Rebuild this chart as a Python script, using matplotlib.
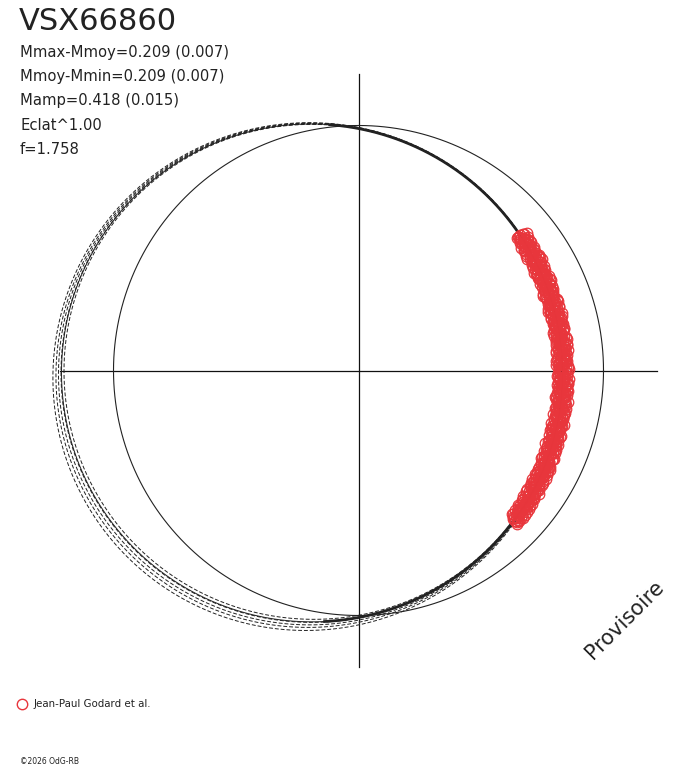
import numpy as np
import matplotlib
matplotlib.use("Agg")
import matplotlib.pyplot as plt

# ---- text ----
title = "VSX66860"
info_lines = ["Mmax-Mmoy=0.209 (0.007)", "Mmoy-Mmin=0.209 (0.007)",
              "Mamp=0.418 (0.015)", "Eclat^1.00", "f=1.758"]
legend_label = "Jean-Paul Godard et al."
footer = "\u00a92026 OdG-RB"
stamp = "Provisoire"

# ---- model curve coefficients (radius in units of the reference circle) ----
model_a = 247.5 / 245
model_b = 46.5 / 245
model_c = 3.0 / 245
model_e = -2.5 / 245
dashed_offsets = [-2.5 / 245, 0.5 / 245, 3.0 / 245, 5.5 / 245, 8.5 / 245]

# ---- observations: phase angle (deg) and radial residuals (x0.001) ----
obs_angle = [
    -44.0, -43.6, -43.1, -42.9, -42.2, -41.8, -41.5, -40.9, -40.6, -40.0, -39.7, -39.1,
    -38.8, -38.3, -37.9, -37.4, -37.0, -36.6, -36.1, -35.8, -35.2, -34.9, -34.3, -34.0,
    -33.5, -33.1, -32.6, -32.2, -31.9, -31.3, -30.9, -30.5, -30.0, -29.6, -29.1, -28.8,
    -28.2, -27.9, -27.4, -26.9, -26.6, -26.1, -25.7, -25.2, -24.8, -24.4, -23.9, -23.5,
    -23.0, -22.7, -22.1, -21.8, -21.3, -20.9, -20.4, -20.0, -19.6, -19.1, -18.7, -18.2,
    -17.9, -17.3, -17.0, -16.5, -16.1, -15.6, -15.2, -14.8, -14.3, -13.9, -13.4, -13.0,
    -12.6, -12.1, -11.7, -11.2, -10.8, -10.4, -9.9, -9.5, -9.0, -8.6, -8.1, -7.7,
    -7.3, -6.8, -6.4, -5.9, -5.5, -5.0, -4.6, -4.2, -3.7, -3.3, -2.8, -2.4,
    -1.9, -1.5, -1.1, -0.6, -0.2, 0.3, 0.7, 1.1, 1.6, 2.0, 2.5, 2.9,
    3.4, 3.8, 4.2, 4.7, 5.1, 5.6, 6.0, 6.5, 6.9, 7.3, 7.8, 8.2,
    8.7, 9.1, 9.6, 10.0, 10.4, 10.9, 11.3, 11.8, 12.2, 12.7, 13.1, 13.5,
    14.0, 14.4, 14.9, 15.3, 15.8, 16.2, 16.6, 17.1, 17.5, 18.0, 18.4, 18.9,
    19.3, 19.7, 20.2, 20.6, 21.1, 21.5, 22.0, 22.4, 22.8, 23.3, 23.7, 24.2,
    24.6, 25.1, 25.5, 25.9, 26.4, 26.8, 27.3, 27.7, 28.2, 28.6, 29.0, 29.5,
    29.9, 30.4, 30.8, 31.3, 31.7, 32.1, 32.6, 33.0, 33.5, 33.9, 34.4, 34.8,
    35.2, 35.7, 36.1, 36.6, 37.0, 37.5, 37.9, 38.3, 38.8, 39.2, 39.6, 40.0,
]
obs_resid_1 = [
    5, -12, 18, -3, 9, -20, 14, 2, -8, 22, -15, 6,
    -4, 11, -18, 25, 0, -9, 16, -22, 7, 13, -6, -14,
    19, -1, -17, 8, 24, -11, 3, -24, 12, -5, 17, -19,
    1, 21, -13, 10, -7, 15, -23, 4, -16, 20, -2, 9,
    -10, 23, -18, 6, -4, 14, -21, 11, 0, -12, 18, -8,
    3, -25, 16, -6, 12, -15, 22, -3, 8, -19, 5, 13,
    -11, 20, -1, -17, 9, 24, -8, 2, -14, 17, -22, 7,
    15, -5, -20, 11, 1, 19, -12, -3, 23, -16, 6, -9,
    12, -24, 4, 18, -7, -13, 21, 0, -18, 10, -4, 16,
    -21, 8, 14, -10, 3, 25, -15, -2, 11, -19, 20, -6,
    5, -12, 17, -23, 9, 1, -8, 22, -14, 13, -3, -17,
    19, -9, 6, -20, 15, -1, 11, -25, 24, -5, -11, 7,
    -16, 21, 2, -7, 13, -22, 18, -4, -13, 10, 0, 16,
    -19, 4, 23, -10, -2, 14, -18, 8, 20, -14, 3, -7,
    12, -21, 17, -3, 6, -12, 25, -15, 1, 9, -24, 19,
    -6, 10, -17, 22, -9, 4, 15, -20, 7, -1, 13, -11,
]
obs_resid_2 = [
    -7, 14, -22, 3, 19, -11, 0, 24, -16, 8, -2, 27,
    10, -19, 5, -26, 15, -8, 21, -1, -13, 6, 28, -20,
    -3, 17, -10, 12, -25, 2, 20, -15, 9, -6, 23, -12,
    18, -4, 26, -18, -9, 7, 13, -21, 1, 25, -14, 4,
    -17, 11, -5, 22, -27, 16, 3, -10, 19, -2, -23, 8,
    24, -13, 0, 15, -20, 6, -8, 27, -16, 11, -4, 20,
    -26, 2, 17, -9, 12, -19, 5, 23, -12, -1, 14, -24,
    9, 21, -7, -15, 26, -3, 10, -22, 18, 1, -11, 25,
    -18, 6, -2, 20, -14, 28, -6, 13, -25, 4, 16, -10,
    2, -17, 22, -4, -21, 9, 15, -12, 0, 24, -8, -19,
    27, -1, 11, -16, 7, -24, 18, 3, -9, 21, -13, 5,
    -5, 19, -20, 10, 26, -7, -15, 1, 14, -23, 8, 17,
    -11, 23, 4, -18, 12, -3, -27, 16, 6, -14, 20, -6,
    15, -9, -22, 2, 25, -12, 7, -1, -17, 19, -26, 11,
    -2, 13, 21, -19, -5, 24, -10, 8, 17, -8, 3, -21,
    22, -15, 0, 12, -23, 18, -4, 9, -13, 26, -7, 1,
]
obs_resid_3 = [
    20, -5, 11, -17, 1, 26, -9, -14, 7, -21, 15, 3,
    -12, 23, -1, 9, -19, 4, -6, 18, -25, 12, 0, 16,
    -8, -22, 14, 2, -15, 21, -4, 10, 27, -18, 6, -11,
    -20, 8, 0, 17, 24, -6, 11, -13, 19, -9, 5, -24,
    13, -2, 20, -16, 8, -7, 25, -19, 3, 15, -11, 22,
    -14, 7, -21, 10, -1, 18, -26, 4, 13, -5, 21, -17,
    6, -12, 25, 1, -20, 9, -4, 16, -8, 27, -15, 3,
    -23, 12, 5, -10, 19, -18, 0, 14, -6, 22, -13, 8,
    2, 17, -9, -20, 11, 4, -15, 24, -3, -12, 20, -26,
    14, -5, 7, 19, -11, -23, 1, 16, 23, -7, 10, -2,
    -18, 25, -6, 8, -13, 15, 21, -20, 2, -10, 18, 9,
    0, -14, 26, -3, -9, 13, -21, 5, -17, 22, 4, -12,
    24, -8, 10, 16, -19, 7, 1, -24, 20, 12, -15, -4,
    -3, 26, -12, 9, 18, -16, 14, -7, 5, -20, 11, 22,
    -17, 6, -9, 27, 3, -13, 19, -6, -24, 2, 15, -1,
    10, -20, 13, -8, 21, -2, -14, 24, 5, -11, 17, -18,
]

W, H = 688, 768
CX, CY, R = 358.5, 370.5, 245.0
RED = "#e8363c"
INK = "#222222"


def model_r(th):
    return (model_a - model_b * np.cos(th) + model_c * np.cos(2 * th)
            + model_e * np.sin(th))


fig = plt.figure(figsize=(W / 100, H / 100), dpi=100)
ax = fig.add_axes([0, 0, 1, 1])
ax.set_xlim(-CX / R, (W - CX) / R)
ax.set_ylim(-(H - CY) / R, CY / R)
ax.set_aspect("equal")
ax.axis("off")

# axes cross
ax.plot([-1.218, 1.218], [0, 0], color="#111111", lw=0.9)
ax.plot([0, 0], [-1.21, 1.21], color="#111111", lw=0.9)

# reference circle
t = np.linspace(0, 2 * np.pi, 721)
ax.plot(np.cos(t), np.sin(t), color=INK, lw=0.8)

# dashed model envelopes
w = (1 - np.cos(t)) / 2 * (1 - 0.75 * np.sin(t))
for d in dashed_offsets:
    rr = model_r(t) + d * w
    ax.plot(rr * np.cos(t), rr * np.sin(t), color=INK, lw=0.7,
            linestyle=(0, (4, 2)))

# thin model curve
rr = model_r(t)
ax.plot(rr * np.cos(t), rr * np.sin(t), color=INK, lw=0.7)

# thick covered segments
for a0, a1 in [(40, 97), (-98, -44)]:
    tt = np.radians(np.linspace(a0, a1, 200))
    rs = model_r(tt)
    ax.plot(rs * np.cos(tt), rs * np.sin(tt), color=INK, lw=2.0,
            solid_capstyle="butt")

# observations
th = np.radians(np.array(obs_angle))
for res in (obs_resid_1, obs_resid_2, obs_resid_3):
    ro = model_r(th) + np.array(res) / 1000.0
    ax.plot(ro * np.cos(th), ro * np.sin(th), linestyle="none", marker="o",
            markersize=7.6, markerfacecolor="none", markeredgecolor=RED,
            markeredgewidth=0.9)


def ft(x, y, s, **kw):
    fig.text(x / W, 1 - y / H, s, **kw)


ft(19, 21, title, fontsize=22, family="DejaVu Sans", va="center", ha="left",
   color=INK)
for i, line in enumerate(info_lines):
    ft(20, 52 + i * 24.5, line, fontsize=10.6, family="DejaVu Sans",
       va="center", ha="left", color=INK)

# legend
ax.plot([(22 - CX) / R], [(CY - 704) / R], marker="o", markersize=7.5,
        markerfacecolor="none", markeredgecolor=RED, markeredgewidth=1.0,
        clip_on=False)
ft(34, 704, legend_label, fontsize=7.4, family="DejaVu Sans", va="center",
   ha="left", color=INK)
ft(20, 762, footer, fontsize=5.5, family="DejaVu Sans", va="center",
   ha="left", color=INK)

ft(625, 620, stamp, fontsize=15, family="DejaVu Sans", rotation=45,
   va="center", ha="center", color=INK)

fig.savefig("out.png", dpi=100)
